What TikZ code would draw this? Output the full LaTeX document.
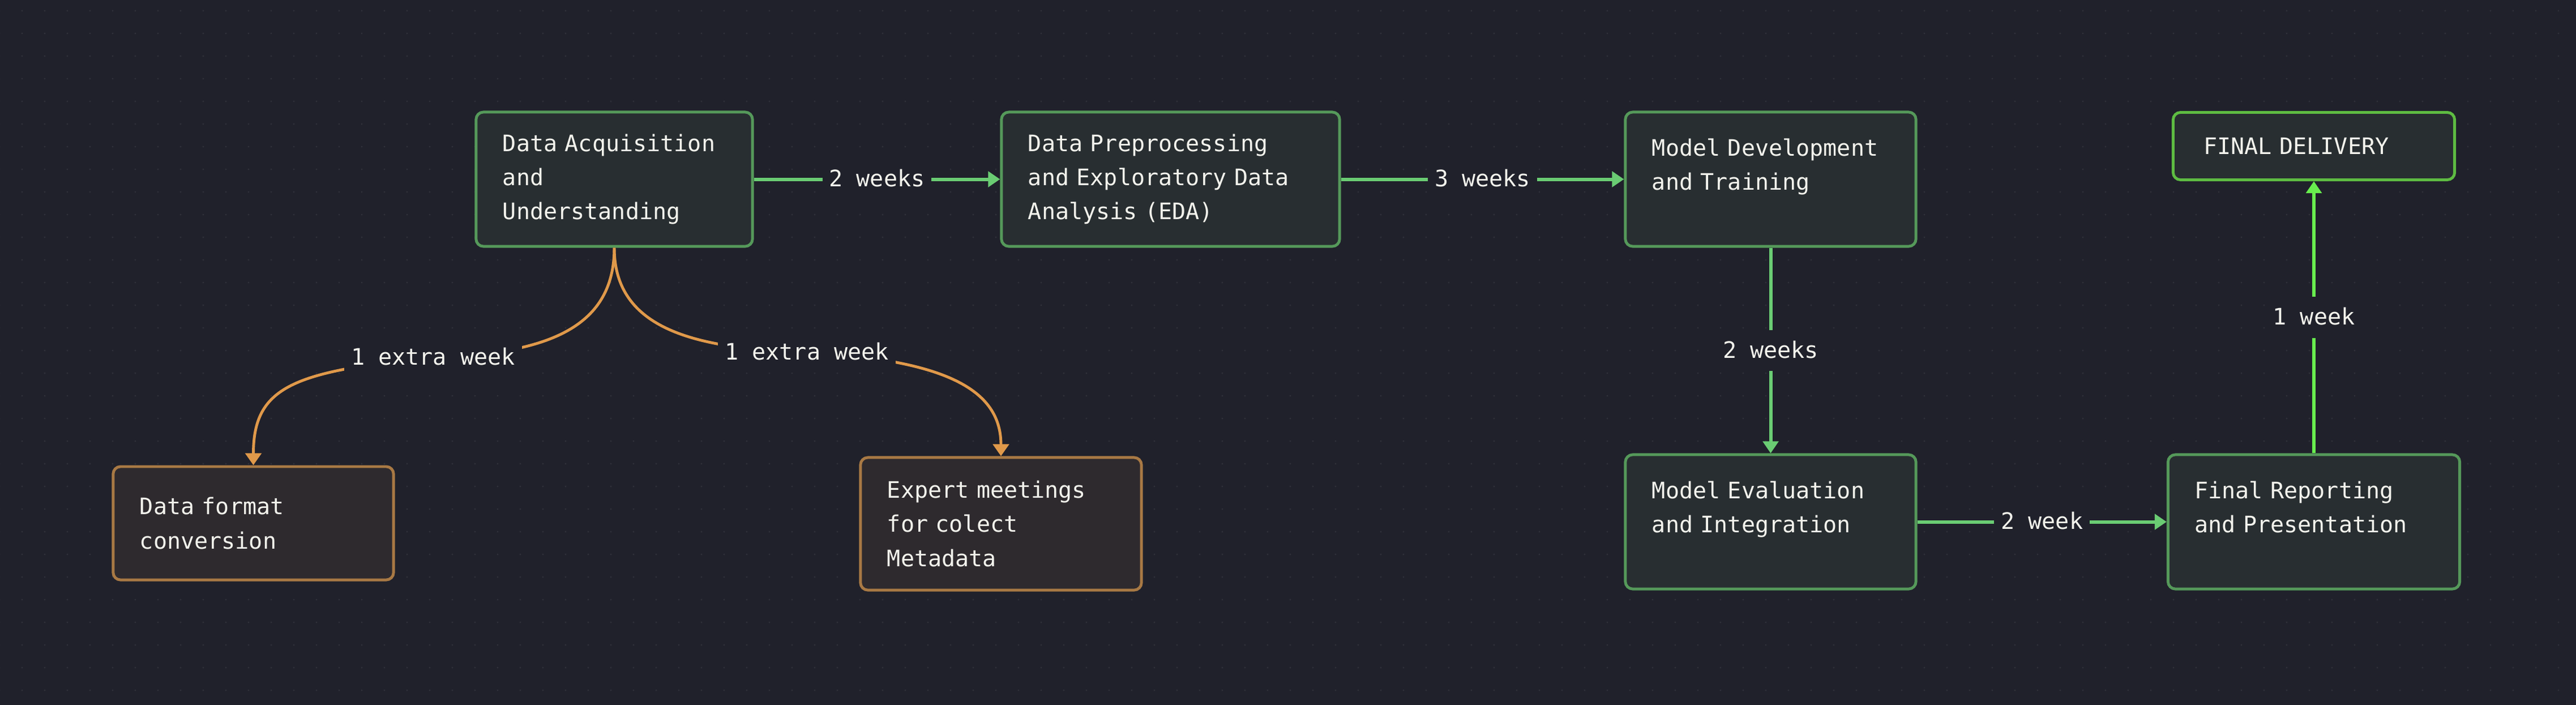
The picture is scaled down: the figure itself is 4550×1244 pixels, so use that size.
\documentclass[tikz,border=0pt]{standalone}
\usepackage{fontspec}
\newfontfamily\monofnt{DejaVu Sans Mono}
\newcommand\boxfont{\monofnt\fontsize{11.4pt}{17.1pt}\selectfont\spaceskip=0.602em\relax}
\usetikzlibrary{arrows.meta}

\definecolor{bg}{HTML}{20212B}
\definecolor{dotc}{HTML}{30313A}
\definecolor{gfill}{HTML}{282E31}
\definecolor{gline}{HTML}{55995A}
\definecolor{garrow}{HTML}{6ACC73}
\definecolor{lgline}{HTML}{5EBC42}
\definecolor{lgarrow}{HTML}{68EE4E}
\definecolor{ofill}{HTML}{2E2A2E}
\definecolor{oline}{HTML}{A87944}
\definecolor{oarrow}{HTML}{E0994A}
\definecolor{txt}{HTML}{F2F2EC}

\begin{document}
\begin{tikzpicture}[x=0.01cm, y=-0.01cm,
    box/.style={rectangle, rounded corners=0.13cm, line width=1.4pt, draw=gline, fill=gfill,
        text=txt, font=\boxfont, align=left,
        inner xsep=0.47cm, inner ysep=0pt, minimum height=2.37cm},
    obox/.style={box, draw=oline, fill=ofill},
    lbl/.style={fill=bg, text=txt, font=\boxfont,
        inner xsep=0.12cm, inner ysep=0.23cm, text height=0.76em, text depth=0pt},
    flow/.style={draw=garrow, line width=1.7pt, -{Triangle[length=0.21cm, width=0.27cm]}},
    ext/.style={draw=oarrow, line width=1.4pt, -{Triangle[length=0.21cm, width=0.28cm]}}]

    \useasboundingbox (0,0) rectangle (4550,1244);
    \fill[bg] (-30,-30) rectangle (4580,1274);
    \foreach \j in {0,...,30}
        \fill[dotc] \foreach \i in {0,...,114} {(40*\i-1, 40*\j+19) circle (0.45pt)};

    \node[box, text width=3.94cm] (acq) at (1085,316.5) {Data Acquisition\\and\\Understanding};
    \node[box, text width=5.03cm] (prep) at (2067.5,316.5) {Data Preprocessing\\and Exploratory Data\\Analysis (EDA)};
    \node[box, text width=4.19cm] (train) at (3127.5,316.5) {Model Development\\and Training\\[-7pt]\strut};
    \node[box, draw=lgline, text width=3.89cm, inner xsep=0.54cm, minimum height=1.19cm] (deliv) at (4087,258) {FINAL DELIVERY};
    \node[box, text width=4.19cm] (evalint) at (3127.5,921.5) {Model Evaluation\\and Integration\\[-7pt]\strut};
    \node[box, text width=4.21cm] (report) at (4087,921.5) {Final Reporting\\and Presentation\\[-7pt]\strut};
    \node[obox, text width=4.01cm, minimum height=2.00cm] (fmt) at (447.5,924) {Data format\\conversion};
    \node[obox, text width=4.02cm, minimum height=2.34cm] (meet) at (1768,925) {Expert meetings\\for colect\\Metadata};

    \draw[flow] (acq) -- node[lbl] {2 weeks} (prep);
    \draw[flow] (prep) -- node[lbl] {3 weeks} (train);
    \draw[flow] (train) -- node[lbl] {2 weeks} (evalint);
    \draw[flow] (evalint) -- node[lbl] {2 week} (report);
    \draw[flow, draw=lgarrow] (report) -- node[lbl] {1 week} (deliv);

    \coordinate (xl) at (765,631);
    \coordinate (xr) at (1425,622);
    \draw[ext] (acq.south) .. controls +(0,145) and +(195,-6) .. (xl) node[lbl] {1 extra week}
        .. controls +(-245,25) and +(0,-140) .. (fmt.north);
    \draw[ext] (acq.south) .. controls +(0,145) and +(-195,-6) .. (xr) node[lbl] {1 extra week}
        .. controls +(245,14) and +(0,-118) .. (meet.north);
\end{tikzpicture}
\end{document}
